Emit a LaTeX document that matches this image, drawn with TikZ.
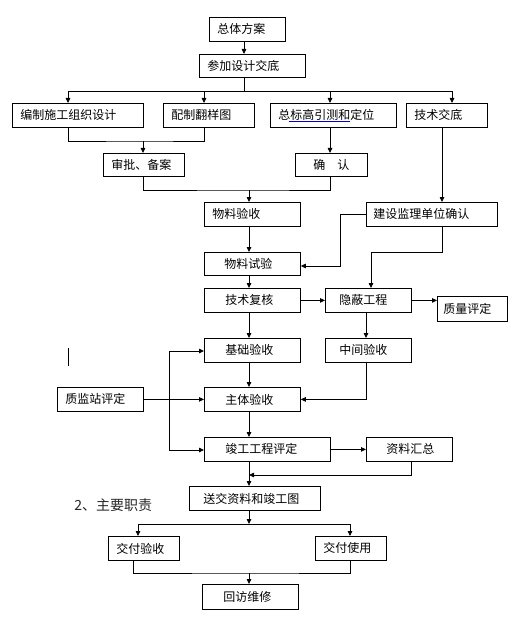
\documentclass[tikz,border=0pt]{standalone}
\usepackage{fontspec}
\setmainfont{Noto Sans CJK SC}
\usetikzlibrary{arrows.meta}
\tikzset{box/.style = {draw, line width=0.8bp, anchor=north west, minimum height=24bp, inner ysep=0, align=left, font=\fontsize{12bp}{14bp}\selectfont}}
\tikzset{arr/.style = {-{Triangle[length=5bp,width=4.5bp]}}}

\begin{document}
\begin{tikzpicture}[x=1bp, y=-1bp, line width=0.8bp]
    \useasboundingbox (0,0) rectangle (518,623);
    \node[box, text width=60bp, inner xsep=8bp] (zongti) at (209,17) {总体方案};
    \node[box, text width=90bp, inner xsep=8bp, minimum height=23bp] (canjia) at (199,54) {参加设计交底};
    \node[box, text width=115bp, inner xsep=8bp] (bianzhi) at (12,103) {编制施工组织设计};
    \node[box, text width=75bp, inner xsep=8bp] (peizhi) at (163,103) {配制翻样图};
    \node[box, text width=110bp, inner xsep=8bp] (biaogao) at (270,103) {总标高引测和定位};
    \node[box, text width=65bp, inner xsep=8bp] (jishujd) at (406,103) {技术交底};
    \node[box, text width=65bp, inner xsep=8bp, minimum height=23bp] (shenpi) at (103,153) {审批、备案};
    \node[box, text width=64bp, inner xsep=4bp, minimum height=23bp, align=center] (queren) at (295,153) {确\quad 认};
    \node[box, text width=80bp, inner xsep=8bp] (wlys) at (204,202) {物料验收};
    \node[box, text width=117bp, inner xsep=7bp] (jianshe) at (366,202) {建设监理单位确认};
    \node[box, text width=56bp, inner xsep=20bp, minimum height=23bp] (wlsy) at (204,252) {物料试验};
    \node[box, text width=54bp, inner xsep=21bp] (jsfh) at (204,288) {技术复核};
    \node[box, text width=58bp, inner xsep=14bp] (yinbi) at (325,288) {隐蔽工程};
    \node[box, text width=58bp, inner xsep=6bp, minimum height=25bp] (zlpd) at (437,296) {质量评定};
    \node[box, text width=54bp, inner xsep=21bp] (jcys) at (204,338) {基础验收};
    \node[box, text width=58bp, inner xsep=14bp] (zjys) at (325,338) {中间验收};
    \node[box, text width=70bp, inner xsep=8bp] (zjz) at (57,387) {质监站评定};
    \node[box, text width=54bp, inner xsep=21bp] (ztys) at (204,387) {主体验收};
    \node[box, text width=84bp, inner xsep=21bp] (jgpd) at (204,437) {竣工工程评定};
    \node[box, text width=46bp, inner xsep=20bp] (zlhz) at (366,437) {资料汇总};
    \node[box, text width=103bp, inner xsep=14bp] (songjiao) at (189,486) {送交资料和竣工图};
    \node[box, text width=55bp, inner xsep=8bp] (jfys) at (108,536) {交付验收};
    \node[box, text width=55bp, inner xsep=8bp] (jfsy) at (315,536) {交付使用};
    \node[box, text width=54bp, inner xsep=21bp, minimum height=25bp] (hfwx) at (202,584) {回访维修};
    \node[anchor=west, inner sep=0, text=black!85, font=\fontsize{14bp}{16bp}\selectfont] (zhize) at (74,505) {2、主要职责};

    \coordinate (fork1) at (244,91);
    \coordinate (join1) at (143,141);
    \coordinate (join2) at (249,190);
    \coordinate (bend1) at (340,266);
    \coordinate (bend2) at (371,252);
    \coordinate (railT) at (169,351);
    \coordinate (railB) at (169,450);
    \coordinate (merge) at (249,475);
    \coordinate (fork2) at (249,524);
    \coordinate (join3) at (249,573);

    \draw[arr] (zongti.south -| fork1) -- (canjia.north -| fork1);
    \draw (canjia.south -| fork1) -- (fork1);
    \draw[arr] (fork1) -| (bianzhi.north -| 68,0);
    \draw[arr] (fork1) -| (peizhi.north -| 204,0);
    \draw[arr] (fork1) -| (biaogao.north -| 330,0);
    \draw[arr] (fork1) -| (jishujd.north -| 452,0);
    \draw (bianzhi.south -| 68,0) |- (join1) -| (peizhi.south -| 204,0);
    \draw[arr] (join1) -- (shenpi.north -| join1);
    \draw[arr] (biaogao.south -| 330,0) -- (queren.north -| 330,0);
    \draw[arr] (jishujd.south -| 442,0) -- (jianshe.north -| 442,0);
    \draw (shenpi.south -| join1) |- (join2) -| (queren.south -| 330,0);
    \draw[arr] (join2) -- (wlys.north -| join2);
    \draw[arr] (jianshe.west) -| (bend1) -- (wlsy.east |- bend1);
    \draw[arr] (jianshe.south -| 442,0) |- (bend2) -- (yinbi.north -| bend2);
    \foreach \a/\b in {wlys/wlsy, wlsy/jsfh, jsfh/jcys, jcys/ztys, ztys/jgpd, jgpd/songjiao}
        \draw[arr] (\a.south -| join2) -- (\b.north -| join2);
    \draw[arr] (jsfh.east) -- (yinbi.west);
    \draw[arr] (yinbi.east) -- (yinbi.east -| zlpd.west);
    \draw[arr] (yinbi.south -| 366,0) -- (zjys.north -| 366,0);
    \draw[arr] (zjys.south -| 366,0) |- (ztys.east);
    \draw[arr] (zjz.east) -- (ztys.west);
    \draw (railT) -- (railB);
    \draw[arr] (railT) -- (jcys.west |- railT);
    \draw[arr] (railB) -- (jgpd.west |- railB);
    \draw[arr] (jgpd.east) -- (zlhz.west);
    \draw[arr] (zlhz.south -| 411,0) |- (merge);
    \draw[arr] (songjiao.south -| fork2) -- (fork2);
    \draw[arr] (fork2) -| (jfys.north -| 138,0);
    \draw[arr] (fork2) -| (jfsy.north -| 350,0);
    \draw (jfys.south -| 133,0) |- (join3) -| (jfsy.south -| 350,0);
    \draw[arr] (join3) -- (hfwx.north -| join3);
    %stray marks
    \draw (68,348) -- (68,366);
    \draw[blue!80!black] (289,121) -- (350,121);
\end{tikzpicture}
\end{document}
